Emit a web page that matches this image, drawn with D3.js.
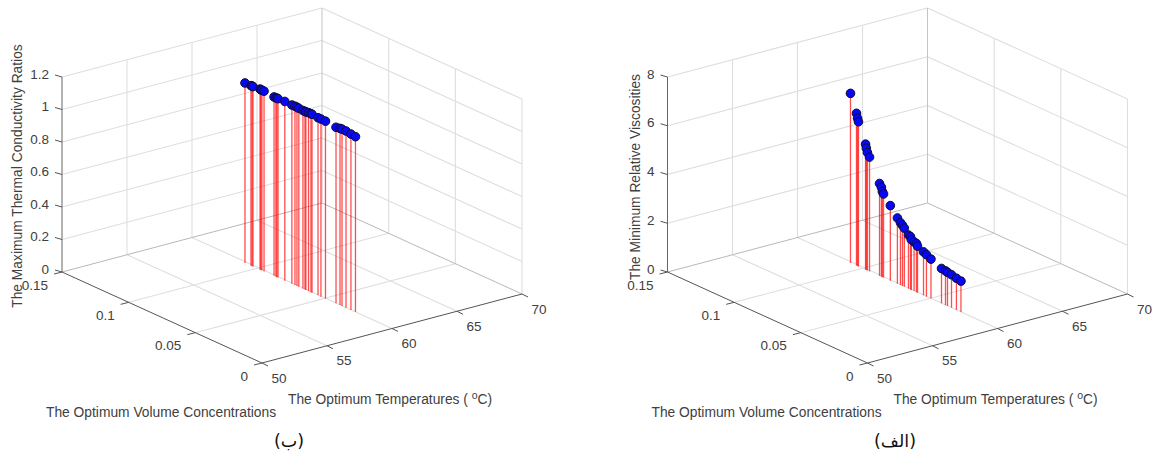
<!DOCTYPE html>
<html>
<head>
<meta charset="utf-8">
<script src="https://cdnjs.cloudflare.com/ajax/libs/d3/7.8.5/d3.min.js"></script>
<style>
  html, body { margin: 0; padding: 0; background: #fff; }
  svg { display: block; }
  text { font-family: "Liberation Sans", Arial, sans-serif; fill: #404040; }
</style>
</head>
<body>
<svg id="chart" width="1152" height="452"></svg>
<script>
// optimum points
const temperatures = [59.85, 59.86, 59.86, 59.86, 59.87, 59.87, 59.87, 59.88,
  59.89, 59.89, 59.89, 59.90, 59.90, 59.91, 59.92, 59.92,
  59.92, 59.93, 59.93, 59.93, 59.94, 59.94, 59.94, 59.95,
  59.95, 59.96, 59.97, 59.98, 59.98, 59.99, 59.99, 60];
const concentrations = [0.1088, 0.1044, 0.1036, 0.1029, 0.0977, 0.0971, 0.0963, 0.0948,
  0.0874, 0.0860, 0.0853, 0.0845, 0.0794, 0.0742, 0.0720, 0.0705,
  0.0691, 0.0661, 0.0646, 0.0639, 0.0620, 0.0602, 0.0594, 0.0550,
  0.0528, 0.0495, 0.0417, 0.0388, 0.0373, 0.0344, 0.0307, 0.0274];
const conductivityRatios = [1.108, 1.108, 1.108, 1.108, 1.111, 1.110, 1.110, 1.109,
  1.101, 1.101, 1.101, 1.101, 1.103, 1.100, 1.101, 1.100,
  1.099, 1.096, 1.096, 1.096, 1.098, 1.098, 1.098, 1.093,
  1.093, 1.092, 1.083, 1.087, 1.088, 1.087, 1.082, 1.078];
const relativeViscosities = [6.96, 6.25, 6.07, 5.94, 5.15, 5.00, 4.84, 4.69,
  3.79, 3.67, 3.51, 3.43, 3.08, 2.70, 2.56, 2.49,
  2.41, 2.20, 2.17, 2.06, 2.02, 2.00, 1.91, 1.78,
  1.72, 1.62, 1.43, 1.40, 1.38, 1.35, 1.30, 1.26];

const tempTicks = [50, 55, 60, 65, 70];
const concTicks = [0, 0.05, 0.1, 0.15];
const ratioTicks = [0, 0.2, 0.4, 0.6, 0.8, 1, 1.2];
const viscTicks = [0, 2, 4, 6, 8];

const svg = d3.select('#chart');

function drawPanel(opts) {
  const g = svg.append('g').attr('transform', `translate(${opts.dx},0)`);

  // oblique projection of the MATLAB view
  const tempX = d3.scaleLinear().domain([50, 70]).range([0, 260]);
  const tempY = d3.scaleLinear().domain([50, 70]).range([0, -69]);
  const concX = d3.scaleLinear().domain([0, 0.15]).range([0, -200]);
  const concY = d3.scaleLinear().domain([0, 0.15]).range([0, -91]);
  const zY = d3.scaleLinear().domain(opts.zDomain).range([0, -195]);

  const px = (t, c) => 262 + tempX(t) + concX(c);
  const py = (t, c, z) => 363 + tempY(t) + concY(c) + zY(z);

  const zMin = opts.zDomain[0], zMax = opts.zDomain[1];
  const segment = (a, b, color, width) => g.append('line')
    .attr('x1', px(a[0], a[1])).attr('y1', py(a[0], a[1], a[2]))
    .attr('x2', px(b[0], b[1])).attr('y2', py(b[0], b[1], b[2]))
    .attr('stroke', color).attr('stroke-width', width || 1);

  const gridColor = '#dedede';

  // grid on the two back walls and the floor
  opts.zTicks.forEach(z => {
    if (z === zMin) return;
    segment([50, 0.15, z], [70, 0.15, z], gridColor, 1.1);
    segment([70, 0.15, z], [70, 0, z], gridColor, 1.1);
  });
  tempTicks.slice(1, -1).forEach(t => {
    segment([t, 0.15, zMin], [t, 0.15, zMax], gridColor, 1.1);
    segment([t, 0, zMin], [t, 0.15, zMin], gridColor, 1.1);
  });
  concTicks.slice(1, -1).forEach(c => {
    segment([70, c, zMin], [70, c, zMax], gridColor, 1.1);
    segment([50, c, zMin], [70, c, zMin], gridColor, 1.1);
  });
  segment([70, 0, zMin], [70, 0, zMax], gridColor, 1.1);

  // box edges behind the data
  segment([50, 0.15, zMin], [70, 0.15, zMin], '#b8b8b8');
  segment([70, 0.15, zMin], [70, 0, zMin], '#b8b8b8');
  segment([70, 0.15, zMin], [70, 0.15, zMax], '#c4c4c4');

  // axes
  segment([50, 0.15, zMin], [50, 0.15, zMax], '#666');
  segment([50, 0, zMin], [50, 0.15, zMin], '#555');
  segment([50, 0, zMin], [70, 0, zMin], '#555');

  // tick marks and labels
  opts.zTicks.forEach(z => {
    const x0 = px(50, 0.15), y0 = py(50, 0.15, z);
    g.append('line').attr('x1', x0).attr('y1', y0).attr('x2', x0 - 7).attr('y2', y0 - 2)
      .attr('stroke', '#555');
    g.append('text').attr('x', x0 - 13).attr('y', y0 - 3).attr('dy', '0.35em')
      .attr('text-anchor', 'end').attr('font-size', 13.5).text(z);
  });
  concTicks.forEach(c => {
    const x0 = px(50, c), y0 = py(50, c, zMin);
    g.append('line').attr('x1', x0).attr('y1', y0).attr('x2', x0 - 8).attr('y2', y0 + 2)
      .attr('stroke', '#555');
    g.append('text').attr('x', x0 - 14).attr('y', y0 + 13).attr('dy', '0.35em')
      .attr('text-anchor', 'end').attr('font-size', 13.5).text(c);
  });
  tempTicks.forEach(t => {
    const x0 = px(t, 0), y0 = py(t, 0, zMin);
    g.append('line').attr('x1', x0).attr('y1', y0).attr('x2', x0 + 6).attr('y2', y0 + 3)
      .attr('stroke', '#555');
    g.append('text').attr('x', x0 + 17).attr('y', y0 + 15).attr('dy', '0.35em')
      .attr('text-anchor', 'middle').attr('font-size', 13.5).text(t);
  });

  // stems then markers
  const points = temperatures.map((t, i) => ({ t, c: concentrations[i], z: opts.values[i] }));

  g.selectAll('.stem').data(points).join('line')
    .attr('class', 'stem')
    .attr('x1', d => px(d.t, d.c)).attr('y1', d => py(d.t, d.c, zMin))
    .attr('x2', d => px(d.t, d.c)).attr('y2', d => py(d.t, d.c, d.z))
    .attr('stroke', '#ff0000').attr('stroke-width', 1.3).attr('stroke-opacity', 0.7);

  g.selectAll('.dot').data(points).join('circle')
    .attr('class', 'dot')
    .attr('cx', d => px(d.t, d.c)).attr('cy', d => py(d.t, d.c, d.z))
    .attr('r', 4.3)
    .attr('fill', '#0808f4').attr('stroke', '#0c0c38').attr('stroke-width', 1);

  // axis titles
  g.append('text').attr('transform', `translate(${opts.zLabelX},${opts.zLabelY}) rotate(-90)`)
    .attr('text-anchor', 'middle').attr('font-size', 13.8).text(opts.zLabel);
  g.append('text').attr('x', 46).attr('y', 417).attr('font-size', 13.8)
    .text('The Optimum Volume Concentrations');
  const tempLabel = g.append('text').attr('x', 288).attr('y', 404).attr('font-size', 13.8);
  tempLabel.append('tspan').text('The Optimum Temperatures ( ');
  tempLabel.append('tspan').attr('dy', -5).attr('font-size', 10.5).text('o');
  tempLabel.append('tspan').attr('dy', 5).text('C)');

  // caption
  g.append('text').attr('x', opts.captionX).attr('y', 447)
    .attr('text-anchor', 'middle').attr('font-size', 17.5)
    .style('font-family', '"DejaVu Sans", sans-serif').style('fill', '#111')
    .text(opts.caption);
}

drawPanel({
  dx: 0, values: conductivityRatios, zDomain: [0, 1.2], zTicks: ratioTicks,
  zLabel: 'The Maximum Thermal Conductivity Ratios', zLabelX: 22, zLabelY: 176,
  caption: '(ب)', captionX: 289
});
drawPanel({
  dx: 605.5, values: relativeViscosities, zDomain: [0, 8], zTicks: viscTicks,
  zLabel: 'The Minimum Relative Viscosities', zLabelX: 34.5, zLabelY: 177,
  caption: '(الف)', captionX: 289.5
});
</script>
</body>
</html>
